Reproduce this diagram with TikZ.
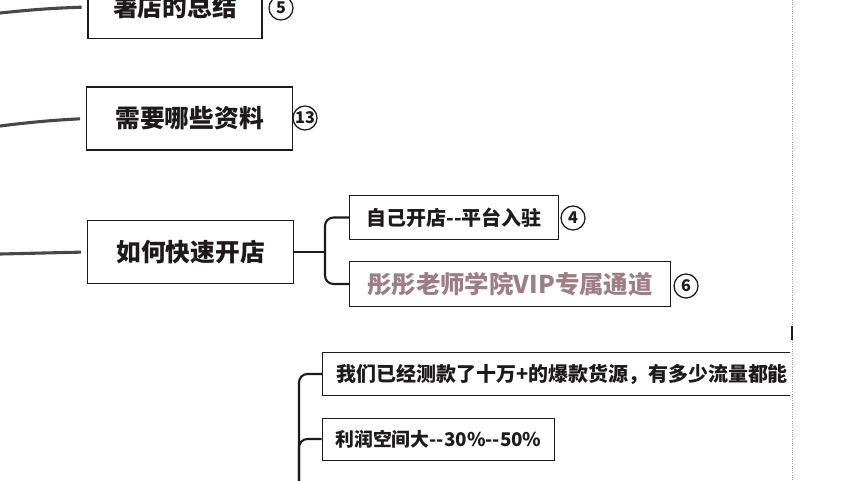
\documentclass[tikz,border=0pt]{standalone}
\usepackage{fontspec}
\setmainfont{Noto Sans CJK SC}
\usepackage{xcolor}
\usepackage{tikz}
\usetikzlibrary{positioning,calc}

\definecolor{ink}{HTML}{1E1A1C}
\definecolor{linkgray}{HTML}{4A4648}
\definecolor{vipgray}{HTML}{9C7F86}
\definecolor{guide}{HTML}{B59CA2}

\begin{document}
\begin{tikzpicture}[
    x=0.025cm, y=-0.025cm,
    topic/.style={rectangle, draw=ink, line width=1pt, minimum width=5.15cm, minimum height=1.57cm, align=center, text=ink, font=\bfseries\fontsize{17.6}{20}\selectfont},
    sub/.style={rectangle, draw=ink, line width=0.7pt, minimum height=1.12cm, align=center, text=ink, font=\bfseries\fontsize{14.2}{16}\selectfont},
    badge/.style={circle, draw=ink, line width=0.9pt, minimum size=0.6cm, inner sep=0pt, text=ink, font=\bfseries\fontsize{11.5}{13}\selectfont},
    link/.style={draw=linkgray, line width=2.2pt, shorten >=4},
    branch/.style={draw=ink, line width=1.5pt, rounded corners=6pt}
]
\useasboundingbox (0,0) rectangle (852,480);
\clip (0,0) rectangle (852,480);

% main topics
\node[topic, minimum width=4.35cm] (summary) at (175,7) {署店的总结};
\node[badge] (n5) at (281,8) {5};

\node[topic] (docs) at (189.5,118.5) {需要哪些资料};
\node[badge] (n13) at (305,118) {13};

\node[topic] (open) at (190.5,252) {如何快速开店};

% sub topics of open
\node[sub, minimum width=5.2cm] (self) at (454,217.5) {自己开店-{}-平台入驻};
\node[badge] (n4) at (573,218) {4};
\node[sub, minimum width=8cm, text=vipgray, font=\bfseries\fontsize{17.4}{20}\selectfont] (vip) at (510,284) {彤彤老师学院VIP专属通道};
\node[badge] (n6) at (686,286) {6};

% lower branch
\begin{scope}
  \clip (0,0) rectangle (790,480);
  \node[sub, text width=12.3cm, inner xsep=0.35cm, minimum height=1.07cm, anchor=west, align=left] (goods) at (322,374) {我们已经测款了十万+的爆款货源，有多少流量都能};
\end{scope}
\node[sub, minimum width=5.82cm, minimum height=1.05cm, font=\bfseries\fontsize{13.4}{16}\selectfont] (profit) at (438.5,439) {利润空间大-{}-30\%-{}-50\%};

% connectors
\coordinate (e1) at (0,13);
\coordinate (e2) at (0,126);
\coordinate (e3) at (0,254);
\draw[link] (e1) to[bend left=2] (summary.west);
\draw[link] (e2) to[bend left=2] (docs.west);
\draw[link] (e3) -- (open.west);

\coordinate (hub) at (325,252);
\draw[branch] (open.east) -- (hub);
\draw[branch] (self.west) -| (hub) |- (vip.west);

\coordinate (trunk) at (299,482);
\draw[branch] (trunk) |- (goods.west);
\draw[branch] (trunk) |- (profit.west);

% page edge guide
\coordinate (g1) at (792,0);
\coordinate (g2) at (792,480);
\draw[guide, densely dotted, line width=0.6pt] (g1) -- (g2);
\coordinate (m1) at (792,326);
\coordinate (m2) at (792,340);
\draw[ink, line width=1pt] (m1) -- (m2);

\end{tikzpicture}
\end{document}
